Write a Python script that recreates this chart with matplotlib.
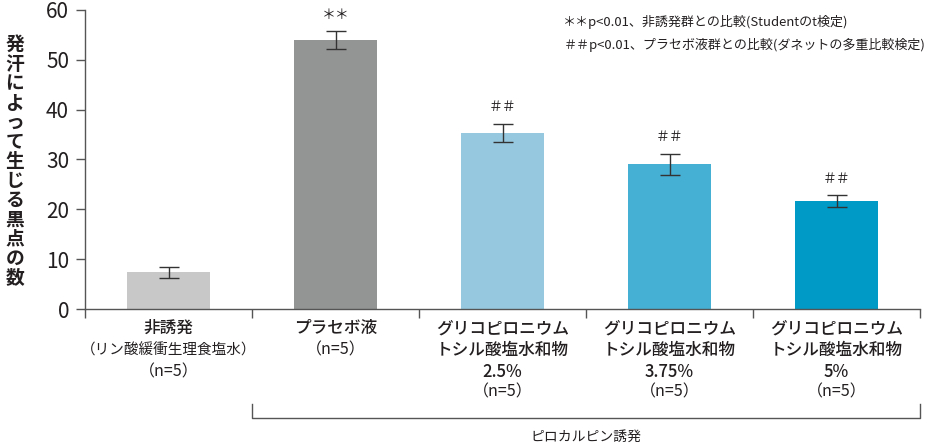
import matplotlib.pyplot as plt
import numpy as np

plt.rcParams['font.family'] = ['Noto Sans CJK JP', 'DejaVu Sans']

# values
groups = ["非誘発", "プラセボ液", "2.5%", "3.75%", "5%"]
means = [7.4, 53.9, 35.3, 29.0, 21.6]
errs = [1.1, 1.8, 1.8, 2.1, 1.2]
marks = ["", "＊＊", "＃＃", "＃＃", "＃＃"]
colors = ["#c8c8c8", "#939594", "#96c9e0", "#46afd4", "#009ac6"]

label_lines = [
    ["非誘発", "（リン酸緩衝生理食塩水）", "（n=5）"],
    ["プラセボ液", "（n=5）"],
    ["グリコピロニウム", "トシル酸塩水和物", "2.5%", "（n=5）"],
    ["グリコピロニウム", "トシル酸塩水和物", "3.75%", "（n=5）"],
    ["グリコピロニウム", "トシル酸塩水和物", "5%", "（n=5）"],
]
notes = ["＊＊p<0.01、非誘発群との比較(Studentのt検定)",
         "＃＃p<0.01、プラセボ液群との比較(ダネットの多重比較検定)"]
ylabel = "発汗によって生じる黒点の数"
bracket_label = "ピロカルピン誘発"

txt_color = "#231f20"

fig = plt.figure(figsize=(9.25, 4.47), dpi=100)
ax = fig.add_axes([0.0919, 0.3087, 0.9027, 0.669])

x = np.arange(len(groups))
ax.bar(x, means, width=0.5, color=colors)
ax.errorbar(x, means, yerr=errs, fmt='none', ecolor='#333333',
            elinewidth=1, capsize=7, capthick=1)

for xi, m, e, mk in zip(x, means, errs, marks):
    if mk:
        ax.annotate(mk, xy=(xi, m + e), xytext=(0, 12), textcoords='offset points',
                    ha='center', va='center', fontsize=10, color=txt_color)

ax.set_xlim(-0.5, 4.5)
ax.set_ylim(0, 60)
ax.set_yticks(range(0, 61, 10))
ax.spines['top'].set_visible(False)
ax.spines['right'].set_visible(False)
for s in ['left', 'bottom']:
    ax.spines[s].set_color('#555555')
    ax.spines[s].set_linewidth(1)
ax.tick_params(axis='y', length=6.5, width=1, color='#555555', pad=5,
               labelsize=15, labelcolor=txt_color)
ax.set_xticks(x)
ax.set_xticklabels([])
ax.tick_params(axis='x', which='major', length=0)
ax.set_xticks(np.arange(-0.5, 5, 1), minor=True)
ax.tick_params(axis='x', which='minor', length=6.5, width=1, color='#555555')

offsets = [13.7, 29.5, 45.4, 59.8]
for i, lines in enumerate(label_lines):
    for j, t in enumerate(lines):
        long_sub = t.startswith('（リ')
        nline = t.startswith('（n')
        ax.annotate(t, xy=(x[i], 0), xycoords=('data', 'axes fraction'),
                    xytext=(0, -offsets[j]), textcoords='offset points',
                    ha='center', va='center', color=txt_color,
                    fontsize=10.5 if long_sub else (11.5 if nline else 12),
                    fontweight='normal' if (long_sub or nline) else 'medium',
                    annotation_clip=False)

# bracket under the pilocarpine groups
bx = [0.5, 0.5, 4.5, 4.5]
by = [-0.318, -0.3645, -0.3645, -0.318]
ax.plot(bx, by, color='#555555', lw=1, clip_on=False,
        transform=ax.get_xaxis_transform())
ax.text(2.5, -0.428, bracket_label, transform=ax.get_xaxis_transform(),
        ha='center', va='center', fontsize=10, color=txt_color)

fig.text(0.016, 0.639, "\n".join(ylabel), ha='center', va='center',
         fontsize=13.5, linespacing=1.03, color=txt_color, fontweight='bold')

fig.text(0.609, 0.951, notes[0], ha='left', va='center', fontsize=9.4, color=txt_color)
fig.text(0.609, 0.899, notes[1], ha='left', va='center', fontsize=9.4, color=txt_color)

fig.savefig("out.png", dpi=100)
